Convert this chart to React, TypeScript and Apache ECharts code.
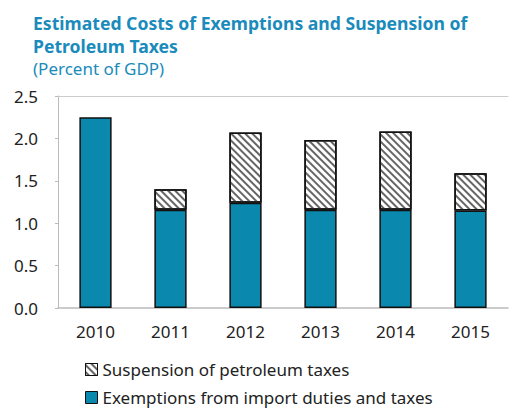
import React, { useEffect, useRef } from "react";
import * as echarts from "echarts";

const categories = ["2010", "2011", "2012", "2013", "2014", "2015"];
const exemptions = [2.25, 1.16, 1.24, 1.16, 1.16, 1.15];
const suspension = [0, 0.24, 0.83, 0.82, 0.92, 0.44];
const yTicks = [0, 0.5, 1.0, 1.5, 2.0, 2.5];
const seriesNames = ["Exemptions from import duties and taxes", "Suspension of petroleum taxes"];

const FONT = "'Noto Sans', 'Open Sans', sans-serif";
const BLUE = "#0a88ad";
const TITLE_BLUE = "#1a8bbb";

const legendBase = {
  left: 80,
  itemWidth: 12,
  itemHeight: 12,
  itemGap: 0,
  icon: "rect",
  itemStyle: { borderWidth: 1, borderColor: "#111" },
  textStyle: { fontFamily: FONT, fontSize: 17, color: "#222", padding: [0, 0, 0, 0] },
};

export default function App() {
  const ref = useRef<HTMLDivElement>(null);
  useEffect(() => {
    if (!ref.current) return;
    const chart = echarts.init(ref.current, undefined, { renderer: "svg" });
    chart.setOption({
      animation: false,
      backgroundColor: "#fff",
      textStyle: { fontFamily: FONT },
      title: [
        {
          text: "Estimated Costs of Exemptions and Suspension of\nPetroleum Taxes",
          left: 28,
          top: 6,
          textStyle: { fontFamily: FONT, fontSize: 17.6, fontWeight: "bold", color: TITLE_BLUE, lineHeight: 23 },
        },
        {
          text: "(Percent of GDP)",
          left: 28,
          top: 55,
          textStyle: { fontFamily: FONT, fontSize: 17, fontWeight: "normal", color: TITLE_BLUE },
        },
      ],
      legend: [
        { ...legendBase, top: 356, data: [seriesNames[1]] },
        { ...legendBase, top: 384, data: [seriesNames[0]] },
      ],
      grid: { left: 58, right: 1, top: 96, bottom: 105 },
      xAxis: [
        {
          type: "category",
          data: categories,
          axisLine: { lineStyle: { color: "#bbb", width: 1.5 } },
          axisTick: { inside: true, length: 5, lineStyle: { color: "#bbb" } },
          axisLabel: { fontFamily: FONT, fontSize: 17, color: "#222", margin: 15 },
        },
        {
          type: "category",
          position: "top",
          data: categories,
          axisLine: { lineStyle: { color: "#ccc", width: 1 } },
          axisTick: { show: false },
          axisLabel: { show: false },
        },
      ],
      yAxis: {
        type: "value",
        min: 0,
        max: 2.5,
        interval: 0.5,
        axisLine: { show: true, lineStyle: { color: "#bbb" } },
        axisTick: { show: true, length: 3, lineStyle: { color: "#bbb" } },
        splitLine: { show: false },
        axisLabel: {
          fontFamily: FONT,
          fontSize: 17,
          color: "#222",
          margin: 20,
          formatter: (v: number) => (yTicks.includes(v) ? v.toFixed(1) : ""),
        },
      },
      series: [
        {
          name: seriesNames[0],
          type: "bar",
          stack: "total",
          data: exemptions,
          barWidth: "43%",
          itemStyle: { color: BLUE, borderColor: "#111", borderWidth: 1.5 },
        },
        {
          name: seriesNames[1],
          type: "bar",
          stack: "total",
          data: suspension.map((v) => (v === 0 ? null : v)),
          barWidth: "43%",
          itemStyle: {
            color: "#fff",
            borderColor: "#111",
            borderWidth: 1.5,
            decal: {
              symbol: "rect",
              symbolSize: 1,
              color: "#666",
              backgroundColor: "#fff",
              dashArrayX: [1, 0],
              dashArrayY: [1.5, 2.5],
              rotation: Math.PI / 4,
            },
          },
        },
      ],
    });
    return () => chart.dispose();
  }, []);
  return <div ref={ref} style={{ width: 509, height: 413, position: "absolute", left: 0, top: 0 }} />;
}
